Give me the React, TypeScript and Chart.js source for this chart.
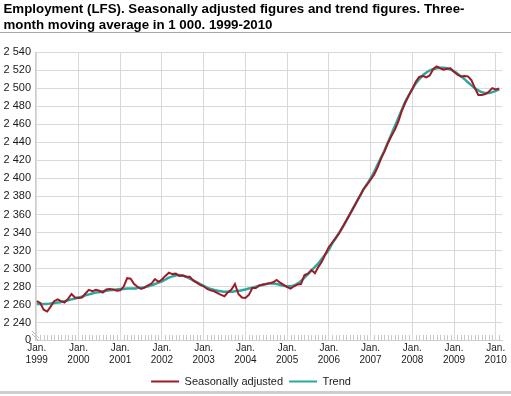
import React, { useEffect, useRef } from 'react';
import { Chart, registerables } from 'chart.js';

Chart.register(...registerables);

const titleLines = [
  'Employment (LFS). Seasonally adjusted figures and trend figures. Three-',
  'month moving average in 1 000. 1999-2010',
];
const startYear = 1999;
const yearTickMonths = [0, 12, 24, 36, 48, 60, 72, 84, 96, 108, 120, 132];
const yTickValues = [2240, 2260, 2280, 2300, 2320, 2340, 2360, 2380, 2400, 2420, 2440, 2460, 2480, 2500, 2520, 2540];
const yBreakValue = 2221;
const seriesNames = ['Seasonally adjusted', 'Trend'];

const seasonal = [
  2264, 2262, 2254.5, 2252.5, 2258, 2264, 2266, 2264, 2262.5, 2266.5, 2272, 2268,
  2267.5, 2268, 2272.5, 2276.5, 2275, 2276.5, 2275.5, 2273.5, 2277, 2277.5, 2277, 2275.5,
  2276, 2280, 2289.5, 2289, 2283, 2280, 2277.5, 2279, 2281.5, 2283.5, 2288.5, 2285.5,
  2288, 2292, 2295.5, 2294, 2294.5, 2292, 2292.5, 2291, 2291, 2287, 2284.5, 2282,
  2280.5, 2277.5, 2276, 2275, 2273, 2271, 2269.5, 2274, 2277, 2283, 2272, 2268,
  2267.5, 2271, 2278.5, 2278.5, 2281.5, 2282.5, 2283, 2284, 2285, 2287.5, 2284.5, 2282,
  2279.5, 2278, 2280.5, 2282.5, 2283, 2293, 2294.5, 2298.5, 2295, 2302, 2308, 2316,
  2324, 2329, 2334, 2339.5, 2346.5, 2353, 2360, 2367, 2374, 2381, 2388, 2393,
  2398.5, 2404, 2412, 2422, 2430, 2439, 2447, 2454, 2463, 2475, 2484, 2492,
  2499, 2507, 2512.5, 2513.5, 2512, 2514, 2521, 2524, 2522, 2520.5, 2521.5, 2522,
  2518, 2515, 2513, 2513.5, 2513, 2509, 2500, 2492.5, 2492.5, 2493.5, 2496, 2500,
  2498.5, 2499.5,
];

const trend = [
  2261, 2261, 2261, 2261, 2261.5, 2262, 2262.5, 2263, 2264, 2265, 2266, 2267,
  2268, 2269, 2270.5, 2271.5, 2272.5, 2273.5, 2274, 2275, 2275.5, 2276, 2276.5, 2277,
  2277.5, 2277.5, 2278, 2278, 2278, 2278.5, 2279, 2279.5, 2280.5, 2281.5, 2283, 2284.5,
  2286, 2288, 2290, 2291.5, 2292.5, 2293, 2292.5, 2291, 2289, 2287, 2285, 2283,
  2281, 2279, 2277.5, 2276.5, 2275.5, 2275, 2274.5, 2274.5, 2274.5, 2275, 2275.5, 2276,
  2277, 2278, 2279, 2280, 2281, 2282, 2283, 2283.5, 2283.5, 2283, 2282, 2281,
  2280.5, 2280.5, 2281.5, 2283.5, 2286.5, 2290, 2294, 2298, 2302, 2306, 2311, 2316,
  2321, 2328, 2334, 2340, 2346, 2353, 2360, 2367, 2374, 2381, 2388, 2394,
  2400, 2407, 2415, 2423, 2431, 2440, 2449, 2458, 2467, 2476, 2485, 2492,
  2499, 2505, 2510, 2514, 2517, 2519.5, 2521, 2522, 2522.5, 2522.5, 2522, 2520.5,
  2518.5, 2516, 2513, 2510, 2506.5, 2503, 2500, 2497.5, 2495.5, 2494.5, 2494.5, 2495.5,
  2497, 2498.5,
];

const FONT = '"Liberation Sans", Arial, sans-serif';
const RED = '#9d1b24';
const TEAL = '#2ba6a1';
const GRID = '#d9d9d9';

const fmt = (v: number) => {
  const s = String(Math.round(v));
  return s.replace(/\B(?=(\d{3})+(?!\d))/g, ' ');
};

const framePlugin = {
  id: 'frame',
  beforeDraw(chart: any) {
    const { ctx, width } = chart;
    ctx.save();
    ctx.fillStyle = '#fff';
    ctx.fillRect(0, 0, chart.width, chart.height);
    ctx.fillStyle = '#000';
    ctx.font = `bold 13.3px ${FONT}`;
    ctx.textBaseline = 'alphabetic';
    ctx.textAlign = 'left';
    ctx.fillText(titleLines[0], 3.5, 13);
    ctx.fillText(titleLines[1], 3.5, 28.5);
    ctx.fillStyle = '#a8a8a8';
    ctx.fillRect(0, 32, width, 1);
    ctx.fillStyle = '#cfcfcf';
    ctx.fillRect(0, 391, width, 3);
    ctx.restore();
  },
  beforeDatasetsDraw(chart: any) {
    const { ctx, chartArea } = chart;
    const xs = chart.scales.x;
    ctx.save();
    ctx.strokeStyle = '#c8c8c8';
    ctx.lineWidth = 1;
    ctx.beginPath();
    for (let m = 0; m < seasonal.length; m++) {
      if (m % 12 === 0) continue;
      const x = Math.round(xs.getPixelForValue(m)) + 0.5;
      ctx.moveTo(x, chartArea.bottom);
      ctx.lineTo(x, chartArea.bottom - 5);
    }
    ctx.stroke();
    // axis break marks
    const x0 = chartArea.left;
    const yb = chartArea.bottom;
    ctx.strokeStyle = '#bdbdbd';
    ctx.beginPath();
    ctx.moveTo(x0 - 3, yb - 9);
    ctx.lineTo(x0 + 4, yb - 2);
    ctx.moveTo(x0 - 3, yb - 6);
    ctx.lineTo(x0 + 4, yb + 1);
    ctx.stroke();
    ctx.restore();
  },
};

export default function App() {
  const ref = useRef<HTMLCanvasElement>(null);
  useEffect(() => {
    if (!ref.current) return;
    const chart = new Chart(ref.current, {
      type: 'line',
      data: {
        datasets: [
          {
            label: seriesNames[0],
            data: seasonal.map((v, i) => ({ x: i, y: v })),
            borderColor: RED,
            backgroundColor: RED,
            borderWidth: 2,
            pointRadius: 0,
            tension: 0,
          },
          {
            label: seriesNames[1],
            data: trend.map((v, i) => ({ x: i, y: v })),
            borderColor: TEAL,
            backgroundColor: TEAL,
            borderWidth: 2.5,
            pointRadius: 0,
            tension: 0.4,
          },
        ],
      },
      options: {
        responsive: false,
        animation: false,
        layout: { padding: { top: 52, left: 0, right: 9, bottom: -1 } },
        plugins: {
          title: { display: false },
          tooltip: { enabled: false },
          legend: {
            position: 'bottom',
            labels: {
              font: { family: FONT, size: 11 },
              color: '#1a1a1a',
              boxWidth: 28,
              boxHeight: 2,
              padding: 6,
              generateLabels: (c: any) => {
                const items = Chart.defaults.plugins.legend.labels.generateLabels(c);
                return items.map((it: any) => ({ ...it, lineWidth: 0, strokeStyle: 'rgba(0,0,0,0)' }));
              },
            },
          },
        },
        scales: {
          x: {
            type: 'linear',
            min: -0.5,
            max: 133.8,
            afterBuildTicks: (s: any) => {
              s.ticks = yearTickMonths.map((v) => ({ value: v }));
            },
            afterFit: (s: any) => {
              s.height = 30;
            },
            ticks: {
              autoSkip: false,
              maxRotation: 0,
              padding: 2,
              font: { family: FONT, size: 10 },
              color: '#1a1a1a',
              callback: (v: any) => ['Jan.', String(startYear + Math.round(Number(v) / 12))],
            },
            grid: { color: GRID, drawTicks: false },
            border: { display: true, color: '#cfcfcf' },
          },
          y: {
            type: 'linear',
            min: yBreakValue,
            max: 2540,
            afterBuildTicks: (s: any) => {
              s.ticks = [yBreakValue, ...yTickValues].map((v) => ({ value: v }));
            },
            afterFit: (s: any) => {
              s.width = 35;
            },
            ticks: {
              autoSkip: false,
              padding: 4,
              font: { family: FONT, size: 11 },
              color: '#1a1a1a',
              callback: (v: any) => (Number(v) === yBreakValue ? '0' : fmt(Number(v))),
            },
            grid: { color: GRID, drawTicks: false },
            border: { display: true, color: '#cfcfcf' },
          },
        },
      },
      plugins: [framePlugin],
    });
    return () => chart.destroy();
  }, []);
  return (
    <div style={{ position: 'absolute', left: 0, top: 0, width: 511, height: 396 }}>
      <canvas ref={ref} width={511} height={396} style={{ width: 511, height: 396 }} />
    </div>
  );
}
